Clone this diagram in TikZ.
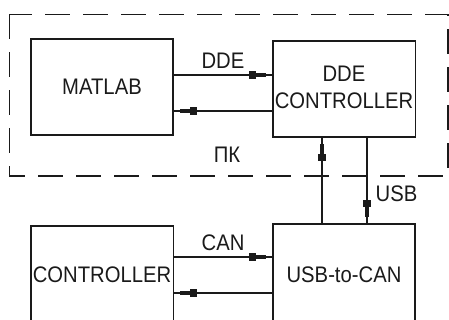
\documentclass[tikz,border=0pt]{standalone}
\usepackage{fontspec}
\setmainfont{Liberation Sans}[FakeStretch=0.9]
\usetikzlibrary{arrows.meta, positioning, calc, decorations.markings}
\definecolor{cink}{HTML}{1A1A1A}
\tikzset{
  every picture/.style={font=\fontsize{22.5}{26}\selectfont, line width=1.4pt},
  block/.style={draw=cink, text=cink, align=center, minimum width=142pt, inner sep=2pt},
  headtip/.tip={Rectangle[length=7pt, width=7.5pt] Rectangle[length=10pt, width=4.5pt]},
  flow/.style={draw=cink, line width=1.3pt, postaction={decorate},
    decoration={markings, mark=at position -6pt with {\arrow{headtip}}}},
  label/.style={text=cink, inner sep=1pt},
  pcframe/.style={draw=cink, line width=1.4pt, dash pattern=on 25pt off 13pt},
}

\begin{document}
\begin{tikzpicture}[x=1pt, y=-1pt]
  \useasboundingbox (0,0) rectangle (449,320);
  \clip (0,0) rectangle (449,320);

  % ---- PC
  \draw[pcframe] (9.5,14.5) rectangle (448,176);
  \node[block, minimum height=96pt] (matlab) at (102,87) {MATLAB};
  \node[block, minimum height=96pt] (ddec) at (344,89) {\raisebox{3pt}{DDE}\\[1pt]\raisebox{3pt}{CONTROLLER}};
  \node[label] (pk) at (227,155) {ПК};

  % ---- hardware
  \node[block, minimum height=98pt] (ctrl) at (102,275) {CONTROLLER};
  \node[block, minimum height=102pt] (usbcan) at (344,275) {USB-to-CAN};

  \draw[flow] ([yshift=12pt]matlab.east) -- ([yshift=12pt]matlab.east -| ddec.west)
    node[label, midway, above=5pt] (dde) {DDE};
  \draw[flow] ([yshift=-24pt]matlab.east -| ddec.west) -- ([yshift=-24pt]matlab.east);
  \draw[flow] ([xshift=-22pt]ddec.south |- usbcan.north) -- ([xshift=-22pt]ddec.south);
  \draw[flow] ([xshift=23pt]ddec.south) -- ([xshift=23pt]ddec.south |- usbcan.north)
    node[label, pos=0.66, right=7pt] (usb) {USB};
  \draw[flow] ([yshift=18pt]ctrl.east) -- ([yshift=18pt]ctrl.east -| usbcan.west)
    node[label, midway, above=5pt] (can) {CAN};
  \draw[flow] ([yshift=-18pt]ctrl.east -| usbcan.west) -- ([yshift=-18pt]ctrl.east);
\end{tikzpicture}
\end{document}
